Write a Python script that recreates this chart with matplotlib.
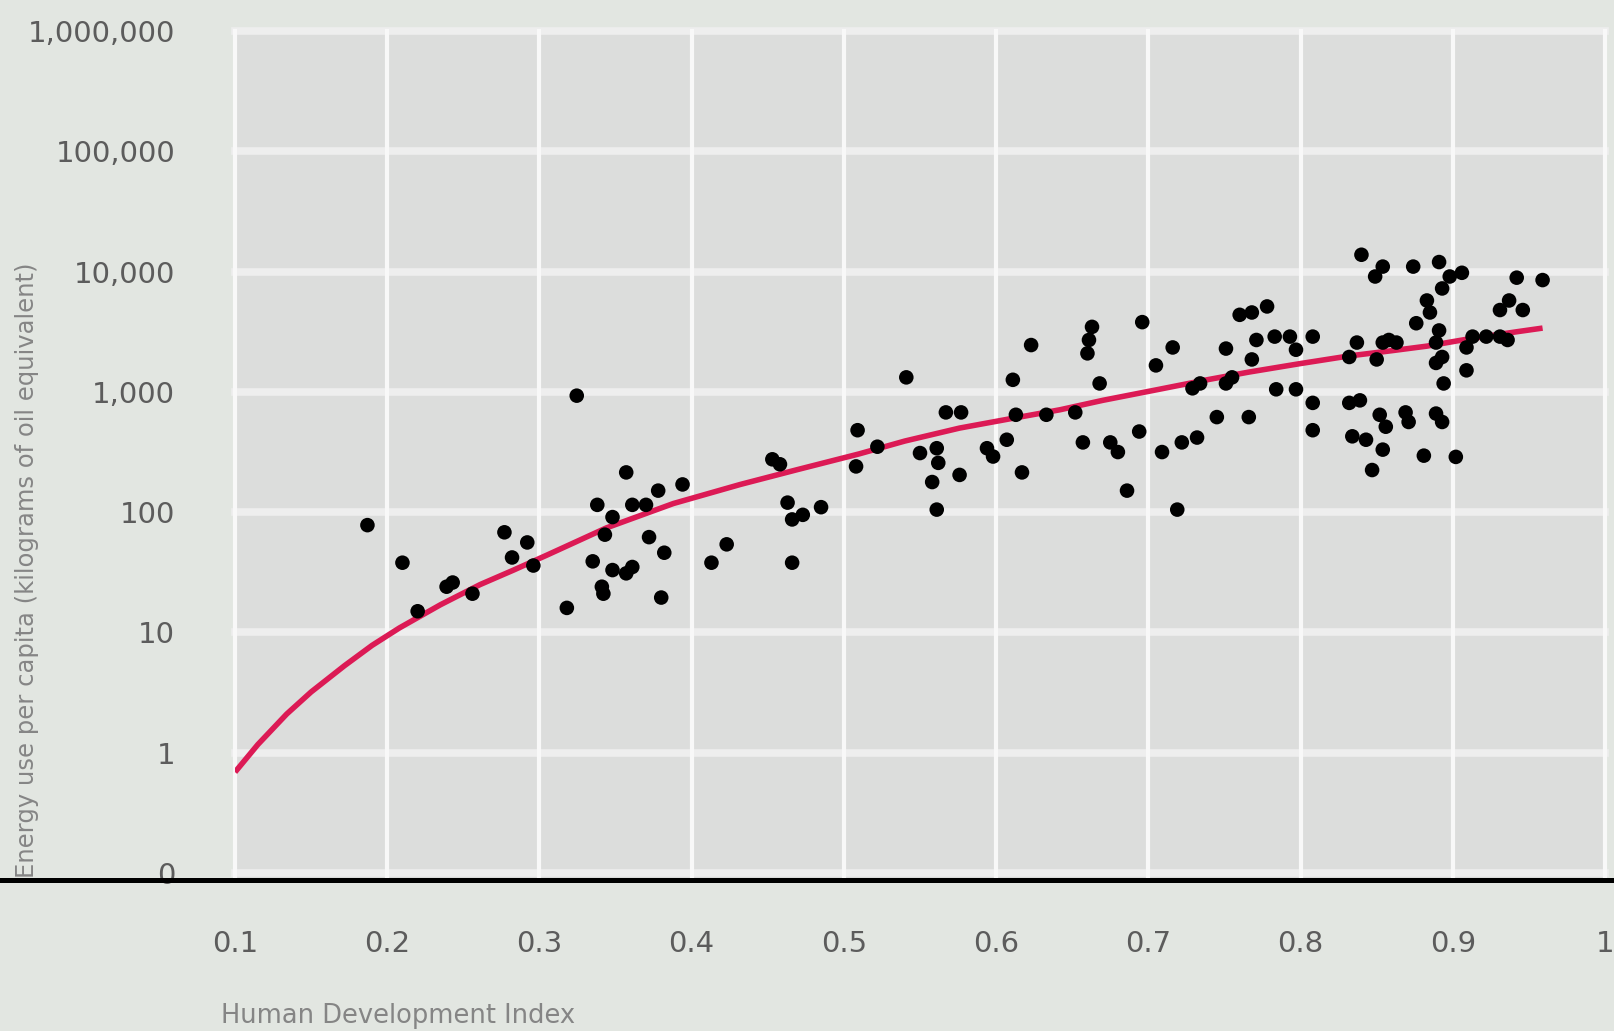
import numpy as np
import matplotlib
matplotlib.use("Agg")
import matplotlib.pyplot as plt
from matplotlib.lines import Line2D

# HDI vs energy use per capita (kg of oil equivalent)
hdi = [
    0.187, 0.210, 0.220, 0.239, 0.243, 0.256, 0.277, 0.282, 0.292, 0.296,
    0.318, 0.3245, 0.335, 0.338, 0.341, 0.342, 0.343, 0.348, 0.348, 0.357,
    0.357, 0.361, 0.361, 0.370, 0.372, 0.378, 0.380, 0.382, 0.394, 0.413,
    0.423, 0.453, 0.458, 0.463, 0.466, 0.466, 0.473, 0.485,
    0.508, 0.509, 0.522, 0.541, 0.550, 0.558, 0.561, 0.561, 0.562, 0.567,
    0.576, 0.577, 0.594, 0.598, 0.607, 0.611, 0.613, 0.617, 0.623, 0.633,
    0.652, 0.657, 0.660, 0.661, 0.663, 0.668, 0.675, 0.680, 0.686, 0.694,
    0.696, 0.705, 0.709, 0.716, 0.719, 0.722, 0.732, 0.729,
    0.734, 0.745, 0.751, 0.751, 0.755, 0.760, 0.766, 0.768, 0.768, 0.771,
    0.778, 0.783, 0.784, 0.793, 0.797, 0.797, 0.808, 0.808, 0.808, 0.832,
    0.832, 0.834, 0.837, 0.839, 0.840, 0.843, 0.847, 0.849, 0.850, 0.852,
    0.854, 0.854, 0.854, 0.856, 0.858, 0.863, 0.869, 0.871, 0.874, 0.876,
    0.881, 0.883, 0.885, 0.889, 0.889, 0.889, 0.891, 0.891, 0.893, 0.893,
    0.893, 0.894, 0.898, 0.902, 0.906, 0.909, 0.909, 0.913, 0.922, 0.931,
    0.931, 0.936, 0.937, 0.942, 0.946, 0.959,
]
energy = [
    78, 38, 15, 24, 26, 21, 68, 42, 56, 36,
    16, 930, 39, 115, 24, 21, 65, 91, 33, 214,
    31, 115, 35, 115, 62, 151, 19.5, 46, 170, 38,
    54, 275, 250, 120, 87, 38, 95, 110,
    240, 480, 350, 1320, 310, 178, 340, 105, 257, 675,
    204, 675, 340, 290, 400, 1260, 645, 214, 2450, 645,
    675, 380, 2090, 2700, 3470, 1175, 380, 316, 151, 468,
    3800, 1660, 316, 2340, 105, 380, 417, 1070,
    1175, 617, 1175, 2290, 1320, 4370, 617, 4570, 1860, 2700,
    5130, 2880, 1050, 2880, 2240, 1050, 2880, 810, 480, 1950,
    810, 427, 2570, 850, 13800, 400, 224, 9100, 1860, 645,
    11000, 2570, 331, 513, 2700, 2570, 675, 562, 11000, 3720,
    295, 5750, 4570, 2570, 1740, 660, 12000, 3240, 7240, 1950,
    562, 1175, 9100, 288, 9770, 1510, 2340, 2880, 2880, 2880,
    4790, 2700, 5750, 8900, 4790, 8500,
]

# trend line, read at points along the curve
trend_x = [0.100, 0.115, 0.134, 0.150, 0.172, 0.190, 0.208, 0.235, 0.261, 0.283,
           0.305, 0.344, 0.388, 0.432, 0.469, 0.510, 0.540, 0.576, 0.610, 0.642,
           0.670, 0.707, 0.740, 0.766, 0.800, 0.832, 0.860, 0.883, 0.910, 0.942,
           0.959]
trend_y = [0.69, 1.17, 2.1, 3.2, 5.3, 7.8, 10.9, 17, 25, 33,
           44, 74, 118, 170, 225, 305, 390, 500, 600, 710,
           850, 1050, 1270, 1460, 1720, 1990, 2200, 2400, 2750, 3160,
           3390]

y_ticks = [0.1, 1, 10, 100, 1000, 10000, 100000, 1000000]
y_tick_labels = ["0", "1", "10", "100", "1,000", "10,000", "100,000", "1,000,000"]
x_ticks = [0.1, 0.2, 0.3, 0.4, 0.5, 0.6, 0.7, 0.8, 0.9, 1.0]
x_tick_labels = ["0.1", "0.2", "0.3", "0.4", "0.5", "0.6", "0.7", "0.8", "0.9", "1"]

W, H = 1614, 1031
fig = plt.figure(figsize=(W / 100, H / 100), dpi=100, facecolor="#e2e6e1")
ax = fig.add_axes([235 / W, 1 - 880 / H, (1605 - 235) / W, (880 - 31) / H])
ax.set_facecolor("#dcdddc")

ax.set_yscale("log")
ax.set_xlim(0.1, 1.0)
ax.set_ylim(0.0875, 1e6)

# grid: wide pale rows, thin white columns
for yv in y_ticks:
    ax.axhline(yv, color="#eeeeee", lw=5.5, zorder=1, clip_on=False)
for xv in x_ticks:
    ax.axvline(xv, color="#f8f8f8", lw=3, zorder=1.1, clip_on=False)

ax.plot(trend_x, trend_y, color="#dc1a55", lw=4, zorder=2,
        solid_capstyle="butt", solid_joinstyle="round")
ax.scatter(hdi, energy, s=110, color="black", edgecolors="none", zorder=3)

ax.set_yticks(y_ticks)
ax.set_yticklabels(y_tick_labels)
ax.minorticks_off()
ax.set_xticks(x_ticks)
ax.set_xticklabels(x_tick_labels)
ax.tick_params(axis="y", length=0, pad=43, labelsize=21, labelcolor="#5c5c5c")
ax.tick_params(axis="x", length=0, pad=36, labelsize=21, labelcolor="#5c5c5c")
for sp in ax.spines.values():
    sp.set_visible(False)

# black base line across the whole width
fig.add_artist(Line2D([0, 1], [1 - 879.5 / H, 1 - 879.5 / H],
                      transform=fig.transFigure, color="black", lw=3.6))

fig.text(27 / W, 1 - 570 / H, "Energy use per capita (kilograms of oil equivalent)",
         rotation=90, ha="center", va="center", fontsize=17.5, color="#858585")
fig.text(221 / W, 1 - 1016 / H, "Human Development Index",
         ha="left", va="center", fontsize=18.5, color="#858585")

fig.savefig("out.png", dpi=100, facecolor=fig.get_facecolor())
